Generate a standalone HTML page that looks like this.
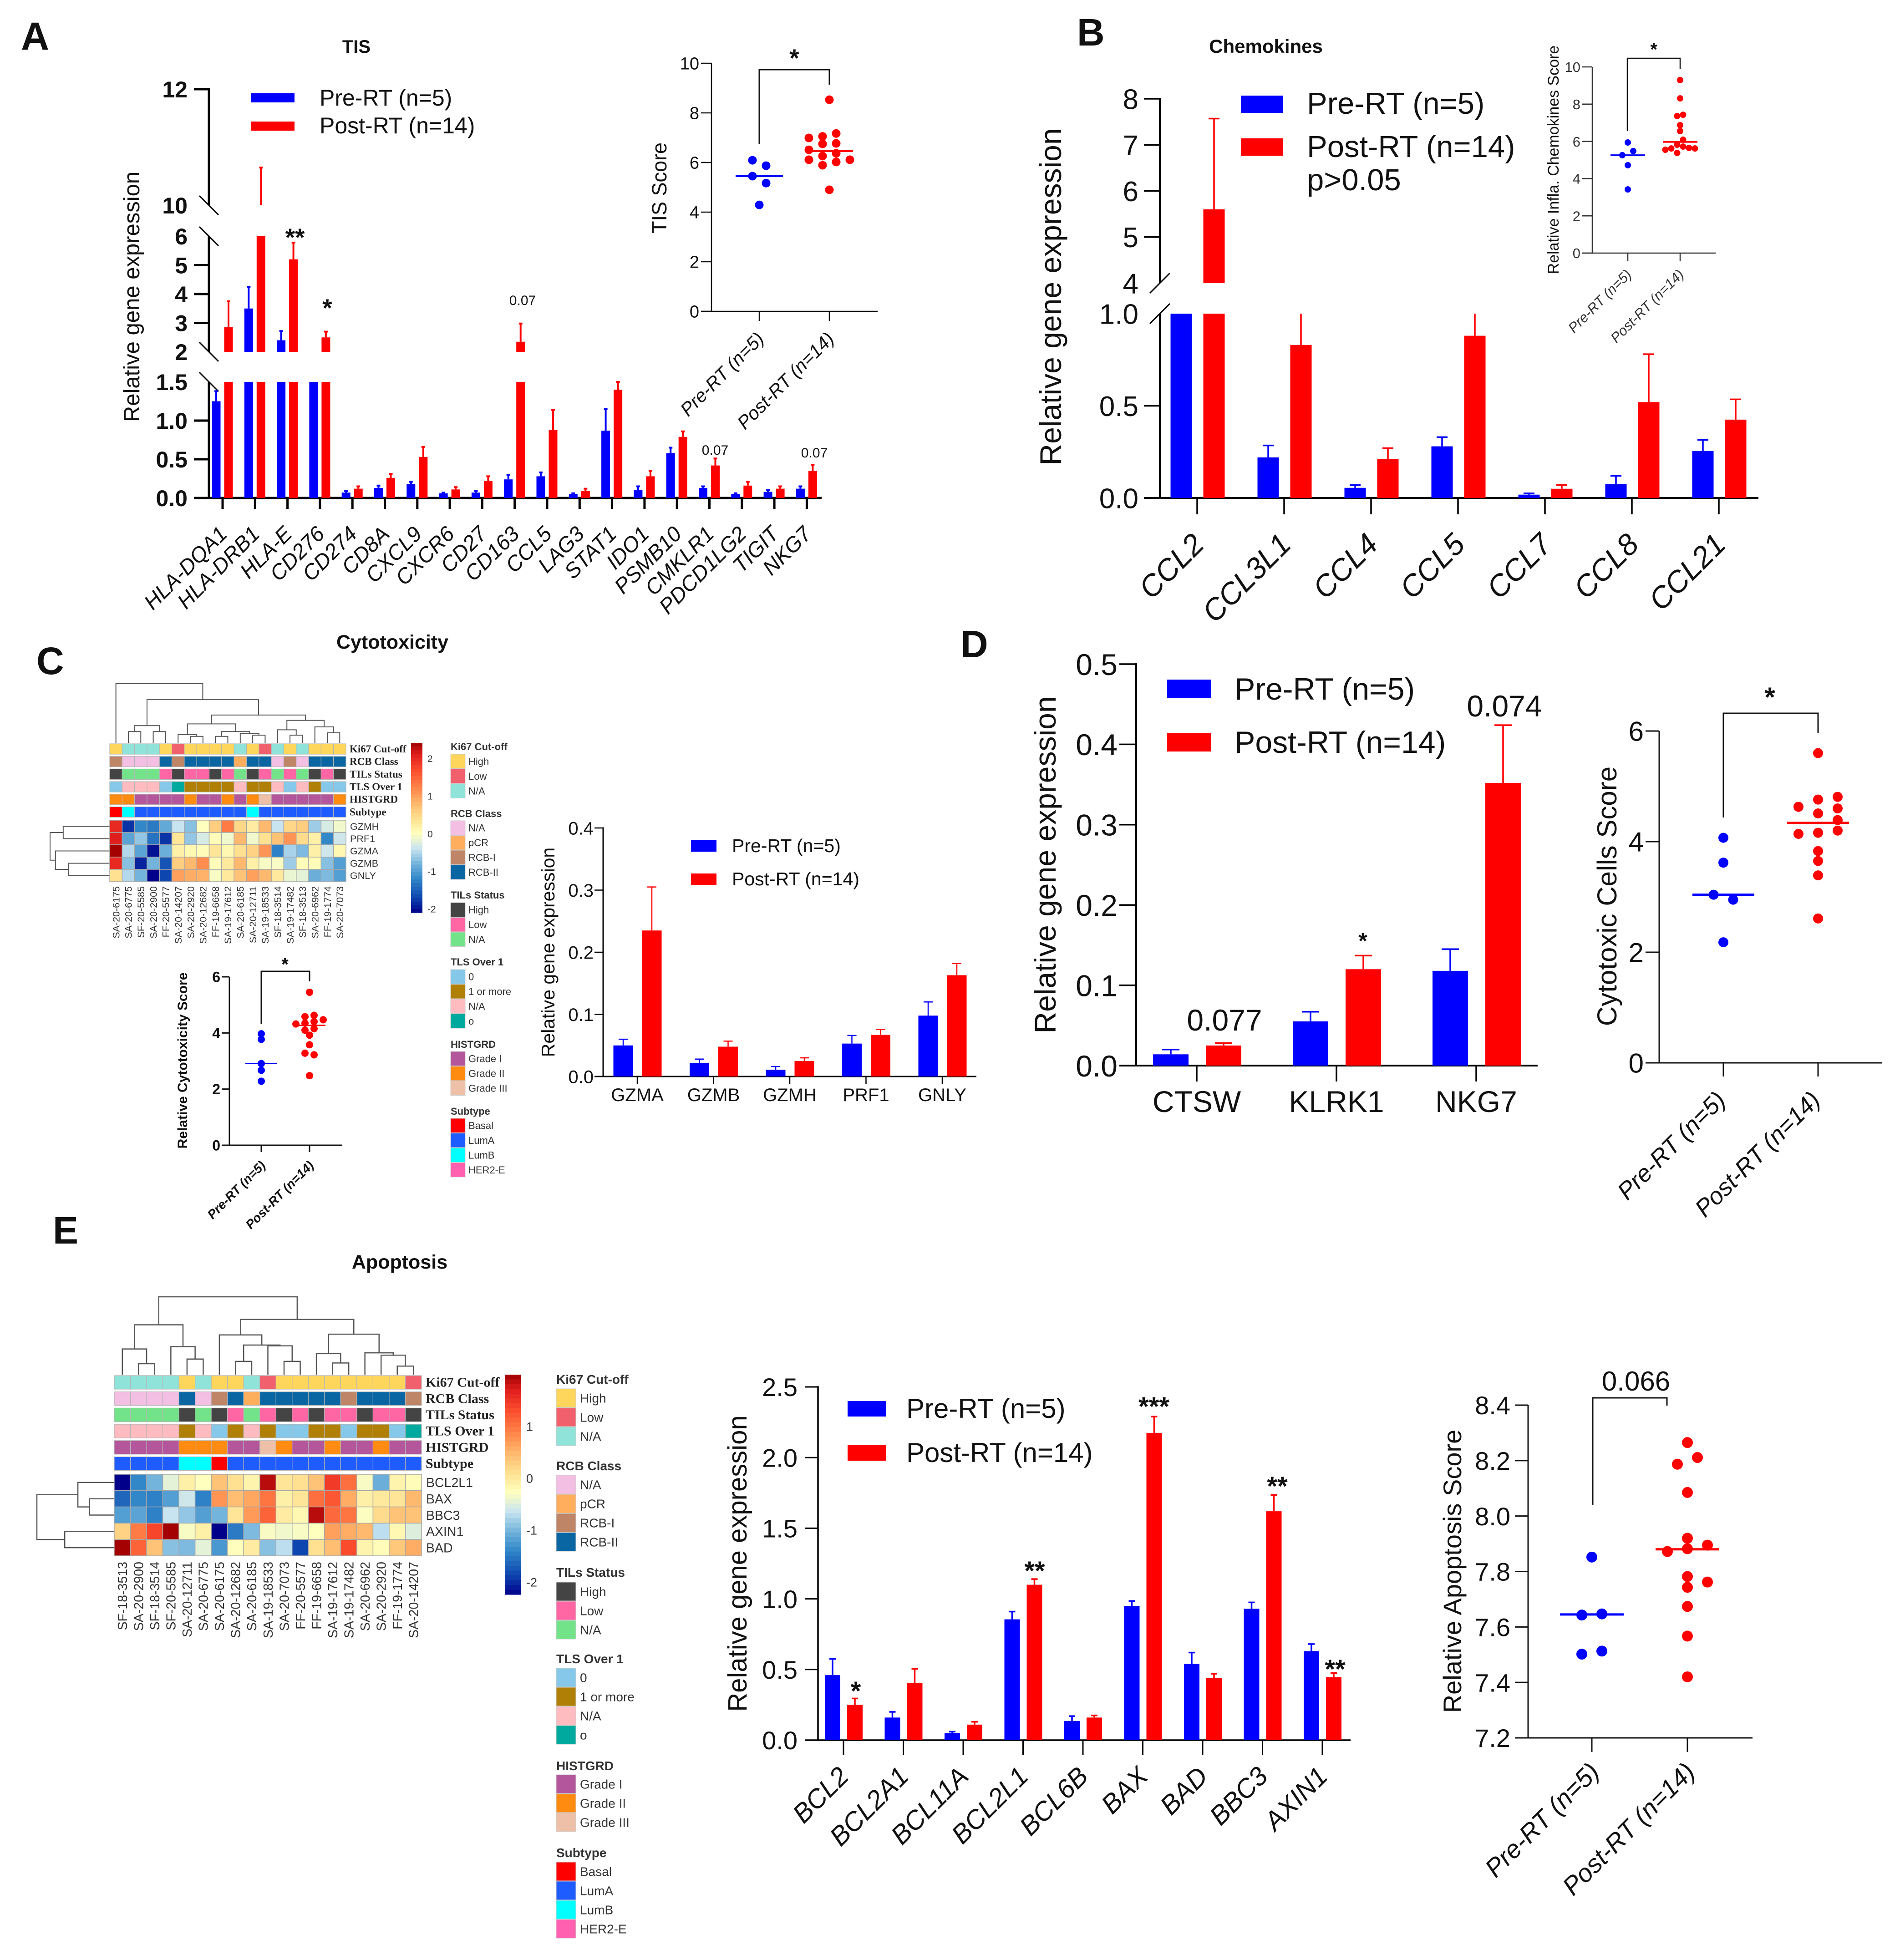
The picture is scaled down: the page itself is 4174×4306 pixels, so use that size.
<!DOCTYPE html>
<html lang="en">
<head>
<meta charset="utf-8">
<title>Gene expression panels</title>
<style>
html,body{margin:0;padding:0;background:#fff;}
svg{display:block;font-family:"Liberation Sans",sans-serif;}
text{fill:#111;}
</style>
</head>
<body>
<svg id="figure" width="4174" height="4306" viewBox="0 0 4174 4306" style="background:#fff">

<!-- Panel letters and titles -->
<text x="46" y="109" font-size="86" font-weight="bold">A</text>
<text x="2366" y="100" font-size="84" font-weight="bold">B</text>
<text x="80" y="1481" font-size="84" font-weight="bold">C</text>
<text x="2110" y="1444" font-size="84" font-weight="bold">D</text>
<text x="116" y="2732" font-size="84" font-weight="bold">E</text>
<text x="783" y="116" font-size="40" font-weight="bold" text-anchor="middle">TIS</text>
<text x="2781" y="116" font-size="42" font-weight="bold" text-anchor="middle">Chemokines</text>
<text x="862" y="1425" font-size="43" font-weight="bold" text-anchor="middle">Cytotoxicity</text>
<text x="878" y="2787" font-size="43" font-weight="bold" text-anchor="middle">Apoptosis</text>

<!-- Panel A static annotations -->
<text transform="translate(306,652) rotate(-90)" font-size="49" text-anchor="middle">Relative gene expression</text>
<rect x="552" y="205" width="95" height="20" fill="#0000ff"/>
<rect x="552" y="267" width="95" height="20" fill="#ff0000"/>
<text x="702" y="232" font-size="50">Pre-RT (n=5)</text>
<text x="702" y="293" font-size="50">Post-RT (n=14)</text>
<text x="648" y="540" font-size="55" font-weight="bold" text-anchor="middle">**</text>
<text x="719" y="695" font-size="55" font-weight="bold" text-anchor="middle">*</text>
<text x="1148" y="670" font-size="30" text-anchor="middle">0.07</text>
<text x="1571" y="999" font-size="30" text-anchor="middle">0.07</text>
<text x="1789" y="1005" font-size="30" text-anchor="middle">0.07</text>
<text transform="translate(1464,413) rotate(-90)" font-size="45" text-anchor="middle">TIS Score</text>
<path d="M1668 317V153H1822V186" fill="none" stroke="#111" stroke-width="3"/>
<text x="1745" y="146" font-size="55" font-weight="bold" text-anchor="middle">*</text>

<!-- Panel B static annotations -->
<text transform="translate(2331,652) rotate(-90)" font-size="66" text-anchor="middle">Relative gene expression</text>
<rect x="2726" y="210" width="92" height="38" fill="#0000ff"/>
<rect x="2726" y="304" width="92" height="38" fill="#ff0000"/>
<text x="2871" y="250" font-size="67">Pre-RT (n=5)</text>
<text x="2871" y="345" font-size="67">Post-RT (n=14)</text>
<text x="2871" y="418" font-size="67">p&gt;0.05</text>
<text transform="translate(3424,351) rotate(-90)" font-size="34" text-anchor="middle">Relative Infla. Chemokines Score</text>
<path d="M3575 288V128H3691V152" fill="none" stroke="#111" stroke-width="2.5"/>
<text x="3633" y="122" font-size="40" font-weight="bold" text-anchor="middle">*</text>

<!-- Panel C static annotations -->
<text transform="translate(411,2330) rotate(-90)" font-size="30" font-weight="bold" text-anchor="middle">Relative Cytotoxicity Score</text>
<path d="M574 2249V2134H680V2156" fill="none" stroke="#111" stroke-width="3"/>
<text x="626" y="2132" font-size="40" font-weight="bold" text-anchor="middle">*</text>
<text transform="translate(1218,2092) rotate(-90)" font-size="41" text-anchor="middle">Relative gene expression</text>
<rect x="1518" y="1846" width="56" height="25" fill="#0000ff"/>
<rect x="1518" y="1919" width="56" height="25" fill="#ff0000"/>
<text x="1608" y="1872" font-size="41">Pre-RT (n=5)</text>
<text x="1608" y="1945" font-size="41">Post-RT (n=14)</text>

<!-- Panel D static annotations -->
<text transform="translate(2319,1900) rotate(-90)" font-size="66" text-anchor="middle">Relative gene expression</text>
<rect x="2564" y="1493" width="97" height="40" fill="#0000ff"/>
<rect x="2564" y="1611" width="97" height="40" fill="#ff0000"/>
<text x="2712" y="1537" font-size="68">Pre-RT (n=5)</text>
<text x="2712" y="1654" font-size="68">Post-RT (n=14)</text>
<text x="3305" y="1574" font-size="66" text-anchor="middle">0.074</text>
<text x="2690" y="2264" font-size="66" text-anchor="middle">0.077</text>
<text x="2994" y="2084" font-size="50" font-weight="bold" text-anchor="middle">*</text>
<text transform="translate(3551,1969) rotate(-90)" font-size="60" text-anchor="middle">Cytotoxic Cells Score</text>
<path d="M3786 1796V1567H3994V1611" fill="none" stroke="#111" stroke-width="3"/>
<text x="3888" y="1552" font-size="60" font-weight="bold" text-anchor="middle">*</text>

<!-- Panel E static annotations -->
<text transform="translate(1640,3435) rotate(-90)" font-size="58" text-anchor="middle">Relative gene expression</text>
<rect x="1862" y="3078" width="85" height="34" fill="#0000ff"/>
<rect x="1862" y="3175" width="85" height="34" fill="#ff0000"/>
<text x="1991" y="3115" font-size="60">Pre-RT (n=5)</text>
<text x="1991" y="3212" font-size="60">Post-RT (n=14)</text>
<text x="1880" y="3735" font-size="58" font-weight="bold" text-anchor="middle">*</text>
<text x="2273" y="3471" font-size="58" font-weight="bold" text-anchor="middle">**</text>
<text x="2535" y="3110" font-size="58" font-weight="bold" text-anchor="middle">***</text>
<text x="2806" y="3285" font-size="58" font-weight="bold" text-anchor="middle">**</text>
<text x="2933" y="3687" font-size="58" font-weight="bold" text-anchor="middle">**</text>
<text transform="translate(3210,3452) rotate(-90)" font-size="56" text-anchor="middle">Relative Apoptosis Score</text>
<path d="M3499 3307V3071H3662V3088" fill="none" stroke="#111" stroke-width="3"/>
<text x="3594" y="3055" font-size="60" text-anchor="middle">0.066</text>
</svg>

<script>
/* ---------- Panel A: TIS bars ---------- */
const aGenes = ['HLA-DQA1','HLA-DRB1','HLA-E','CD276','CD274','CD8A','CXCL9','CXCR6','CD27','CD163','CCL5','LAG3','STAT1','IDO1','PSMB10','CMKLR1','PDCD1LG2','TIGIT','NKG7'];
const aPre = [1.25,3.5,2.4,1.7,0.07,0.13,0.18,0.06,0.07,0.24,0.28,0.05,0.87,0.10,0.58,0.13,0.05,0.08,0.12];
const aPreErr = [1.38,4.25,2.72,1.8,0.09,0.16,0.21,0.07,0.09,0.30,0.33,0.06,1.15,0.15,0.65,0.15,0.06,0.10,0.15];
const aPost = [2.85,7,5.2,2.5,0.12,0.26,0.53,0.11,0.22,2.35,0.88,0.09,1.4,0.28,0.79,0.42,0.16,0.12,0.35];
const aPostErr = [3.75,10.65,5.78,2.7,0.15,0.31,0.66,0.14,0.28,2.98,1.14,0.12,1.5,0.35,0.86,0.51,0.21,0.15,0.43];
const aTicks = ['0.0','0.5','1.0','1.5','2','3','4','5','6','10','12'];

/* ---------- Panel A: TIS score ---------- */
const tisGroups = ['Pre-RT (n=5)','Post-RT (n=14)'];
const tisTicks = ['0','2','4','6','8','10'];
const tisPre = [6.09,5.87,5.45,5.17,4.29];
const tisPost = [8.53,7.17,7.05,6.99,6.77,6.75,6.51,6.37,6.26,6.11,6.11,6.02,5.89,4.9];
const tisMedians = [5.45,6.46];

/* ---------- Panel B: chemokine bars ---------- */
const bGenes = ['CCL2','CCL3L1','CCL4','CCL5','CCL7','CCL8','CCL21'];
const bPre = [2.5,0.22,0.055,0.28,0.018,0.075,0.255];
const bPreErr = [3.0,0.285,0.07,0.33,0.025,0.12,0.315];
const bPost = [5.6,0.83,0.21,0.88,0.05,0.52,0.425];
const bPostErr = [7.57,1.05,0.27,1.02,0.07,0.78,0.535];
const bTicks = ['0.0','0.5','1.0','4','5','6','7','8'];

/* ---------- Panel B: chemokine score ---------- */
const chemoTicks = ['0','2','4','6','8','10'];
const chemoPre = [5.94,5.48,5.26,4.72,3.42];
const chemoPost = [9.29,8.31,7.43,7.36,6.87,6.55,6.09,5.82,5.72,5.65,5.62,5.62,5.55,5.38];
const chemoMedians = [5.26,5.97];

/* ---------- Panel C: cytotoxicity heatmap ---------- */
const cSamples = ['SA-20-6175','SA-20-6775','SF-20-5585','SA-20-2900','FF-20-5577','SA-20-14207','SA-20-2920','SA-20-12682','FF-19-6658','SA-19-17612','SA-20-6185','SA-20-12711','SA-19-18533','SF-18-3514','SA-19-17482','SF-18-3513','SA-20-6962','FF-19-1774','SA-20-7073'];
const cRowGenes = ['GZMH','PRF1','GZMA','GZMB','GNLY'];
const cGZMH = [2.0,-1.8,-1.2,-1.3,-0.9,-0.4,-0.7,0.0,0.6,1.3,0.5,0.25,0.8,-0.4,0.5,0.6,-0.6,-0.3,-0.1];
const cPRF1 = [2.1,-0.95,-0.65,-1.35,-1.8,0.35,-0.65,-0.3,0.05,-0.1,0.8,-0.1,0.4,0.7,1.1,0.45,0.2,-1.2,-0.35];
const cGZMA = [2.4,-0.5,-0.95,-2.0,-0.85,0.2,0.1,0.05,0.35,0.1,0.4,0.55,1.1,-1.25,-0.55,-0.75,0.2,-0.35,0.1];
const cGZMB = [2.0,-0.7,-1.9,-0.8,-1.6,0.6,0.8,1.15,0.05,0.3,0.8,0.2,-0.05,-0.05,-0.6,0.05,0.05,-0.7,-1.0];
const cGNLY = [0.4,-0.5,-0.8,-2.1,-1.7,1.0,0.9,0.85,-0.05,0.3,0.7,1.0,0.8,0.3,-0.15,-0.2,-0.85,-0.75,-1.0];
const cKi67 = ['High','N/A','N/A','N/A','High','Low','High','High','High','High','N/A','High','Low','N/A','High','N/A','High','High','High'];
const cRCB = ['RCB-I','N/A','N/A','N/A','RCB-II','RCB-I','RCB-II','RCB-II','RCB-II','RCB-II','pCR','RCB-II','RCB-II','N/A','RCB-I','N/A','RCB-II','RCB-II','RCB-II'];
const cTILs = ['High','N/A','N/A','N/A','Low','High','Low','Low','High','Low','N/A','High','Low','N/A','Low','N/A','High','Low','High'];
const cTLS = ['0','N/A','N/A','N/A','0','o','1 or more','1 or more','1 or more','1 or more','N/A','1 or more','1 or more','N/A','0','N/A','1 or more','0','0'];
const cHIST = ['Grade II','Grade II','Grade I','Grade I','Grade I','Grade I','Grade II','Grade I','Grade I','Grade II','Grade I','Grade II','Grade III','Grade I','Grade I','Grade I','Grade I','Grade I','Grade II'];
const cSubtype = ['Basal','LumB','LumA','LumA','LumA','LumA','LumA','LumA','LumA','LumA','LumA','LumB','LumA','LumA','LumA','LumA','LumA','LumA','LumA'];
const cColTree = [100,0,[73,[29,[19,1,2],[19,3,4]],[47,[32,[14,5,[11,6,7]],[19,[11,8,9],[16,10,[13,11,12]]]],[38,[22,13,[13,14,15]],[27,16,[17,17,18]]]]]];
const cRowTree = [100,[78,0,1],[91,2,[69,3,4]]];
const cBarTicks = ['2','1','0','-1','-2'];

/* ---------- Panel C: cytotoxicity score ---------- */
const cytoTicks = ['0','2','4','6'];
const cytoPre = [3.97,3.77,2.91,2.67,2.28];
const cytoPost = [5.45,4.63,4.58,4.47,4.4,4.35,4.32,4.15,4.1,3.92,3.58,3.28,3.22,2.48];
const cytoMedians = [2.91,4.27];

/* ---------- Panel C: cytotoxic genes bars ---------- */
const c2Genes = ['GZMA','GZMB','GZMH','PRF1','GNLY'];
const c2Pre = [0.05,0.022,0.011,0.053,0.098];
const c2PreErr = [0.06,0.028,0.016,0.066,0.12];
const c2Post = [0.235,0.048,0.025,0.067,0.163];
const c2PostErr = [0.305,0.057,0.03,0.076,0.182];
const c2Ticks = ['0.0','0.1','0.2','0.3','0.4'];

/* ---------- Panel D ---------- */
const dGenes = ['CTSW','KLRK1','NKG7'];
const dPre = [0.014,0.055,0.118];
const dPreErr = [0.02,0.067,0.145];
const dPost = [0.025,0.12,0.352];
const dPostErr = [0.028,0.137,0.424];
const dTicks = ['0.0','0.1','0.2','0.3','0.4','0.5'];
const cellTicks = ['0','2','4','6'];
const cellPre = [4.07,3.62,3.04,2.95,2.18];
const cellPost = [5.6,4.81,4.76,4.63,4.6,4.51,4.39,4.2,4.16,4.14,3.83,3.65,3.39,2.61];
const cellMedians = [3.04,4.34];

/* ---------- Panel E: apoptosis heatmap ---------- */
const eSamples = ['SF-18-3513','SA-20-2900','SF-18-3514','SF-20-5585','SA-20-12711','SA-20-6775','SA-20-6175','SA-20-12682','SA-20-6185','SA-19-18533','SA-20-7073','FF-20-5577','FF-19-6658','SA-19-17612','SA-19-17482','SA-20-6962','SA-20-2920','FF-19-1774','SA-20-14207'];
const eRowGenes = ['BCL2L1','BAX','BBC3','AXIN1','BAD'];
const eBCL2L1 = [-2.2,-1.2,-0.8,-0.2,0.2,0.0,0.7,0.4,0.15,2.3,0.35,0.4,0.7,1.85,1.4,-0.05,-0.85,0.15,0.05];
const eBAX = [-1.45,-1.2,-1.25,-1.0,-0.35,-1.25,1.1,0.75,0.95,1.35,0.2,0.35,1.4,1.6,0.9,0.2,0.3,0.35,0.8];
const eBBC3 = [-1.0,-0.95,-1.25,-0.4,-0.65,-1.0,-0.8,0.35,1.05,1.5,0.25,0.1,2.3,1.45,1.35,-0.02,0.45,0.7,0.7];
const eAXIN1 = [0.55,1.3,1.75,2.4,-0.05,0.2,-2.2,-1.3,-0.75,-0.05,-0.1,-0.05,0.0,1.0,0.9,0.8,-0.45,0.1,-0.25];
const eBAD = [2.4,1.5,0.7,-0.7,-0.75,-0.2,-1.05,0.02,0.25,-0.7,-0.45,-1.7,0.4,0.75,1.7,0.15,0.05,0.65,0.9];
const eKi67 = ['N/A','N/A','N/A','N/A','High','N/A','High','High','N/A','Low','High','High','High','High','High','High','High','High','Low'];
const eRCB = ['N/A','N/A','N/A','N/A','RCB-II','N/A','RCB-I','RCB-II','pCR','RCB-II','RCB-II','RCB-II','RCB-II','RCB-II','RCB-I','RCB-II','RCB-II','RCB-II','RCB-I'];
const eTILs = ['N/A','N/A','N/A','N/A','High','N/A','High','Low','N/A','Low','High','Low','High','Low','Low','High','Low','Low','High'];
const eTLS = ['N/A','N/A','N/A','N/A','1 or more','N/A','0','1 or more','N/A','1 or more','0','0','1 or more','1 or more','0','1 or more','1 or more','0','o'];
const eHIST = ['Grade I','Grade I','Grade I','Grade I','Grade II','Grade II','Grade II','Grade I','Grade I','Grade III','Grade II','Grade I','Grade I','Grade II','Grade I','Grade I','Grade II','Grade I','Grade I'];
const eSubtype = ['LumA','LumA','LumA','LumA','LumB','LumB','Basal','LumA','LumA','LumA','LumA','LumA','LumA','LumA','LumA','LumA','LumA','LumA','LumA'];
const eColTree = [100,[64,[33,0,[14,1,2]],[36,3,[20,4,5]]],[71,[51,6,[38,[17,7,8],[37,9,[17,10,11]]]],[52,[27,12,[15,13,14]],[28,15,[25,16,[11,17,18]]]]]];
const eRowTree = [100,[47,0,[32,1,2]],[64,3,4]];
const eBarTicks = ['1','0','-1','-2'];

/* ---------- Panel E: apoptosis bars ---------- */
const e2Genes = ['BCL2','BCL2A1','BCL11A','BCL2L1','BCL6B','BAX','BAD','BBC3','AXIN1'];
const e2Pre = [0.46,0.16,0.05,0.855,0.135,0.95,0.54,0.93,0.63];
const e2PreErr = [0.575,0.2,0.06,0.91,0.17,0.985,0.62,0.975,0.68];
const e2Post = [0.25,0.405,0.11,1.1,0.16,2.175,0.44,1.62,0.445];
const e2PostErr = [0.295,0.505,0.13,1.14,0.175,2.29,0.47,1.735,0.475];
const e2Ticks = ['0.0','0.5','1.0','1.5','2.0','2.5'];

/* ---------- Panel E: apoptosis score ---------- */
const apoTicks = ['7.2','7.4','7.6','7.8','8.0','8.2','8.4'];
const apoPre = [7.852,7.647,7.643,7.513,7.502];
const apoPost = [8.265,8.211,8.187,8.085,7.92,7.895,7.882,7.872,7.782,7.762,7.743,7.674,7.567,7.42];
const apoMedians = [7.645,7.88];

/* ---------- Heatmap legend vocab ---------- */
const annotTitles = ['Ki67 Cut-off','RCB Class','TILs Status','TLS Over 1','HISTGRD','Subtype'];
const ki67Levels = ['High','Low','N/A'];
const rcbLevels = ['N/A','pCR','RCB-I','RCB-II'];
const tilsLevels = ['High','Low','N/A'];
const tlsLevels = ['0','1 or more','N/A','o'];
const histLevels = ['Grade I','Grade II','Grade III'];
const subtypeLevels = ['Basal','LumA','LumB','HER2-E'];
const ki67Colors = ['#ffd65c','#f0616d','#8fe3d8'];
const rcbColors = ['#f3bfe3','#ffae5e','#bf8567','#0a66a3'];
const tilsColors = ['#444444','#ff66a3','#73e38a'];
const tlsColors = ['#85c8ea','#b07f06','#ffbcc0','#00a99d'];
const histColors = ['#b3569c','#ff8c10','#eec0a8'];
const subtypeColors = ['#ff0000','#1f5cff','#00ffff','#ff60b0'];

/* ---------- Helpers ---------- */
const NS = 'http://www.w3.org/2000/svg';
const root = document.getElementById('figure');
const BLUE = '#0000ff', RED = '#ff0000';

function slug(s){ return String(s).toLowerCase().replace(/[^a-z0-9]+/g,'-').replace(/^-|-$/g,''); }

function mk(parent, tag, name, attrs){
  const el = document.createElementNS(NS, tag);
  
  
  for (const k in attrs) el.setAttribute(k, attrs[k]);
  parent.appendChild(el);
  return el;
}
function txt(parent, name, str, attrs){
  const el = mk(parent, 'text', name, attrs);
  el.textContent = str;
  return el;
}
function line(parent, name, x1, y1, x2, y2, stroke, w){
  return mk(parent, 'line', name, {x1:x1, y1:y1, x2:x2, y2:y2, stroke:stroke, 'stroke-width':w});
}
function rotLabel(parent, name, str, x, y, size, weight, fill){
  return txt(parent, name, str, {x:x, y:y, 'font-size':size, 'font-style':'italic', 'font-weight':weight||'normal',
    'text-anchor':'end', transform:'rotate(-45 '+x+' '+y+')', style:'fill:'+(fill||'#111')});
}

/* Piecewise linear y axis made of segments [v0, v1, y0, y1] */
function segY(seg, v){ return seg[2] + (v - seg[0]) / (seg[1] - seg[0]) * (seg[3] - seg[2]); }
function valueY(segs, v){
  for (const s of segs) if (v >= s[0] && v <= s[1]) return segY(s, v);
  return null;
}

function drawValueBar(g, cfg, cx, value, err, color, label){
  for (const s of cfg.segs){
    if (value > s[0]){
      const top = segY(s, Math.min(value, s[1]));
      const bot = segY(s, s[0]);
      mk(g, 'rect', 'bar-' + label, {x:cx - cfg.barW/2, y:top, width:cfg.barW, height:bot-top, fill:color});
    }
    if (err > s[0] && value < s[1]){
      const a = segY(s, Math.max(value, s[0]));
      const b = segY(s, Math.min(err, s[1]));
      line(g, 'error-bar-' + label, cx, a, cx, b, color, cfg.errW);
      if (err <= s[1]) line(g, 'error-cap-' + label, cx - cfg.capW/2, b, cx + cfg.capW/2, b, color, cfg.errW);
    }
  }
}

function drawBarChart(name, cfg){
  const g = mk(root, 'g', name, {});
  const lastSeg = cfg.segs[cfg.segs.length-1];
  for (const s of cfg.segs) line(g, 'y-axis-line', cfg.axisX, s[2] + (s===cfg.segs[0] ? cfg.axisW/2 : 0), cfg.axisX, s[3] - (s===lastSeg ? cfg.axisW/2 : 0), '#000', cfg.axisW);
  line(g, 'x-axis-line', cfg.tickLeft, cfg.segs[0][2], cfg.xEnd, cfg.segs[0][2], '#000', cfg.axisW);
  cfg.ticks.forEach(function(lab){
    const v = parseFloat(lab);
    const y = valueY(cfg.segs, v);
    const isBreak = cfg.segs.some(function(s,i){ return (v===s[0] && i>0) || (v===s[1] && i<cfg.segs.length-1); });
    if (isBreak){
      const d = cfg.slash;
      const dirY = cfg.slashUp ? -d : d;
      line(g, 'axis-break-mark', cfg.axisX - d, y - dirY, cfg.axisX + d, y + dirY, '#000', 3);
    } else if (v !== cfg.segs[0][0]) {
      line(g, 'y-tick', cfg.tickLeft, y, cfg.axisX, y, '#000', cfg.tickW);
    }
    txt(g, 'y-tick-label', lab, {x:cfg.labelRight, y:y + cfg.labelSize*0.36, 'font-size':cfg.labelSize, 'font-weight':cfg.labelWeight||'normal', 'text-anchor':'end'});
  });
  cfg.cats.forEach(function(cat,i){
    const tx = cfg.x0 + i*cfg.step;
    const base = cfg.segs[0][2];
    drawValueBar(g, cfg, tx + cfg.off[0], cfg.pre[i], cfg.preErr[i], BLUE, 'pre-' + slug(cat));
    drawValueBar(g, cfg, tx + cfg.off[1], cfg.post[i], cfg.postErr[i], RED, 'post-' + slug(cat));
    line(g, 'x-tick', tx, base, tx, cfg.tickBottom, '#000', cfg.tickW);
    if (cfg.rot){
      rotLabel(g, 'x-tick-label-' + slug(cat), cat, tx + cfg.rot[0], cfg.rot[1], cfg.catSize);
    } else {
      txt(g, 'x-tick-label-' + slug(cat), cat, {x:tx, y:cfg.catY, 'font-size':cfg.catSize, 'text-anchor':'middle'});
    }
  });
}

/* Column layout for dot plots: single points sit on the centre, close pairs split
   either side, larger clusters fill the nearest free column. */
function swarm(vals, cx, d, cfg, yOf){
  const sorted = vals.slice().sort(function(a,b){ return b-a; });
  const ys = sorted.map(yOf);
  const clusters = [];
  ys.forEach(function(y,i){
    if (i===0 || y - ys[i-1] >= cfg.link) clusters.push([i]);
    else clusters[clusters.length-1].push(i);
  });
  const placed = [];
  const out = [];
  clusters.forEach(function(c){
    c.forEach(function(idx,pos){
      let offset = 0;
      if (c.length === 2){
        offset = (pos===0 ? cfg.pairFirst : -cfg.pairFirst) * 0.5;
      } else if (c.length > 2){
        let best = cfg.cols[0], bestGap = -1;
        for (const k of cfg.cols){
          const gap = placed.reduce(function(m,p){ return p.k===k ? Math.min(m, Math.abs(p.y-ys[idx])) : m; }, Infinity);
          if (gap >= cfg.sep){ best = k; bestGap = Infinity; break; }
          if (gap > bestGap){ best = k; bestGap = gap; }
        }
        offset = best;
      }
      placed.push({k:offset, y:ys[idx]});
      out.push({x:cx + offset*d, y:ys[idx]});
    });
  });
  return out;
}

function drawScatter(name, cfg){
  const g = mk(root, 'g', name, {});
  const y0 = parseFloat(cfg.ticks[0]), y1 = parseFloat(cfg.ticks[cfg.ticks.length-1]);
  const yOf = function(v){ return cfg.yBottom + (v - y0)/(y1 - y0)*(cfg.yTop - cfg.yBottom); };
  const col = cfg.color || '#111';
  line(g, 'y-axis-line', cfg.axisX, cfg.yBottom, cfg.axisX, cfg.yTop, col, cfg.axisW);
  line(g, 'x-axis-line', cfg.tickLeft, cfg.yBottom, cfg.xEnd, cfg.yBottom, col, cfg.axisW);
  cfg.ticks.forEach(function(lab){
    const y = yOf(parseFloat(lab));
    line(g, 'y-tick', cfg.tickLeft, y, cfg.axisX, y, col, cfg.axisW);
    txt(g, 'y-tick-label', lab, {x:cfg.labelRight, y:y + cfg.labelSize*0.36, 'font-size':cfg.labelSize, 'font-weight':cfg.weight||'normal', 'text-anchor':'end', style:'fill:'+col});
  });
  [[cfg.pre, BLUE, 'pre'],[cfg.post, RED, 'post']].forEach(function(series, s){
    const cx = cfg.groupX[s];
    line(g, 'x-tick', cx, cfg.yBottom, cx, cfg.tickBottom, col, cfg.axisW);
    rotLabel(g, 'x-tick-label-' + series[2], tisGroups[s], cx + cfg.rot[0], cfg.rot[1], cfg.groupSize, cfg.weight, col);
    swarm(series[0], cx, cfg.d[s], cfg, yOf).forEach(function(p){
      mk(g, 'circle', 'point-' + series[2], {cx:p.x, cy:p.y, r:cfg.r, fill:series[1]});
    });
    const my = yOf(cfg.medians[s]);
    line(g, 'median-line-' + series[2], cx - cfg.medHalf, my, cx + cfg.medHalf, my, series[1], cfg.medW);
  });
}

/* Heat colour map */
const heatStops = [[-2.1,[0,0,139]],[-1.7,[14,70,175]],[-1.2,[50,135,200]],[-0.8,[115,180,220]],[-0.4,[200,228,240]],[0,[255,255,190]],[0.4,[255,225,145]],[0.8,[255,185,110]],[1.2,[255,135,75]],[1.7,[250,75,45]],[2.1,[225,30,30]],[2.42,[160,0,0]]];
function heatColor(v){
  if (v <= heatStops[0][0]) return 'rgb(' + heatStops[0][1].join(',') + ')';
  for (let i=1;i<heatStops.length;i++){
    if (v <= heatStops[i][0]){
      const a = heatStops[i-1], b = heatStops[i];
      const t = (v-a[0])/(b[0]-a[0]);
      return 'rgb(' + a[1].map(function(c,j){ return Math.round(c + t*(b[1][j]-c)); }).join(',') + ')';
    }
  }
  return 'rgb(160,0,0)';
}

const annotLevels = [ki67Levels, rcbLevels, tilsLevels, tlsLevels, histLevels, subtypeLevels];
const annotColors = [ki67Colors, rcbColors, tilsColors, tlsColors, histColors, subtypeColors];

function layoutTree(node, pos){
  if (typeof node === 'number') return {p:pos(node), h:0};
  return {h:node[0], a:layoutTree(node[1],pos), b:layoutTree(node[2],pos), get p(){ return (this.a.p + this.b.p)/2; }};
}
function drawTree(g, node, toPoint, stroke, w){
  if (node.a === undefined) return;
  const p1 = toPoint(node.a.p, node.a.h), p2 = toPoint(node.a.p, node.h), p3 = toPoint(node.b.p, node.h), p4 = toPoint(node.b.p, node.b.h);
  mk(g, 'path', 'dendrogram-branch', {d:'M'+p1+'L'+p2+'L'+p3+'L'+p4, fill:'none', stroke:stroke, 'stroke-width':w});
  drawTree(g, node.a, toPoint, stroke, w);
  drawTree(g, node.b, toPoint, stroke, w);
}

function drawHeatmap(name, cfg){
  const g = mk(root, 'g', name, {});
  const n = cfg.samples.length;
  const cw = cfg.cellW;
  /* dendrograms */
  const colTree = layoutTree(cfg.colTree, function(i){ return cfg.x + (i+0.5)*cw; });
  drawTree(g, colTree, function(p,h){ return p + ' ' + (cfg.treeBase - h*cfg.treeScale); }, '#555', cfg.treeW);
  const rowTree = layoutTree(cfg.rowTree, function(i){ return cfg.mainY + (i+0.5)*cfg.rowH; });
  drawTree(g, rowTree, function(p,h){ return (cfg.x - h*cfg.rowTreeScale) + ' ' + p; }, '#555', cfg.treeW);
  /* annotations */
  cfg.annot.forEach(function(track,r){
    const y = cfg.annotY + r*cfg.annotPitch;
    track.forEach(function(level,i){
      const c = annotColors[r][annotLevels[r].indexOf(level)];
      mk(g, 'rect', 'annotation-cell-' + slug(annotTitles[r]), {x:cfg.x+i*cw, y:y, width:cw, height:cfg.annotH, fill:c, stroke:'#b5b5b5', 'stroke-width':1.2});
    });
    txt(g, 'annotation-label-' + slug(annotTitles[r]), annotTitles[r], {x:cfg.labelX, y:y + cfg.annotH/2 + cfg.labelSize*0.32, 'font-size':cfg.labelSize, 'font-weight':'bold', style:'font-family:\'Liberation Serif\',serif;fill:#222'});
  });
  /* main grid */
  cfg.rows.forEach(function(vals,r){
    const y = cfg.mainY + r*cfg.rowH;
    vals.forEach(function(v,i){
      mk(g, 'rect', 'heatmap-cell-' + slug(cfg.genes[r]), {x:cfg.x+i*cw, y:y, width:cw, height:cfg.rowH, fill:heatColor(v), stroke:'#a8a8a8', 'stroke-width':1.5});
    });
    txt(g, 'row-label-' + slug(cfg.genes[r]), cfg.genes[r], {x:cfg.labelX+1, y:y + cfg.rowH/2 + cfg.geneSize*0.36, 'font-size':cfg.geneSize, style:'fill:#333'});
  });
  cfg.samples.forEach(function(s,i){
    const x = cfg.x + (i+0.5)*cw + cfg.geneSize*0.36;
    txt(g, 'column-label-' + slug(s), s, {x:x, y:cfg.sampleTop, 'font-size':cfg.geneSize, 'text-anchor':'end', transform:'rotate(-90 '+x+' '+cfg.sampleTop+')', style:'fill:#333'});
  });
  /* colour bar */
  const bands = 46;
  for (let b=0;b<bands;b++){
    const v = 2.42 - (b+0.5)/bands*4.52;
    mk(g, 'rect', 'colorbar-band', {x:cfg.bar.x, y:cfg.bar.y + b*cfg.bar.h/bands, width:cfg.bar.w, height:cfg.bar.h/bands+0.6, fill:heatColor(v)});
  }
  cfg.bar.ticks.forEach(function(lab){
    const y = cfg.bar.y + (cfg.bar.top - parseFloat(lab))/(cfg.bar.top - cfg.bar.bottom)*cfg.bar.h;
    txt(g, 'colorbar-tick-label', lab, {x:cfg.bar.labelX, y:y + cfg.bar.size*0.36, 'font-size':cfg.bar.size, style:'fill:#333'});
  });
  /* legends */
  annotTitles.forEach(function(title,r){
    txt(g, 'legend-title-' + slug(title), title, {x:cfg.leg.x, y:cfg.leg.titleY[r] + cfg.leg.size*0.36, 'font-size':cfg.leg.size, 'font-weight':'bold', style:'fill:#333'});
    annotLevels[r].forEach(function(level,i){
      const y = cfg.leg.swatchY[r] + i*cfg.leg.pitch;
      mk(g, 'rect', 'legend-swatch-' + slug(title) + '-' + slug(level), {x:cfg.leg.x, y:y, width:cfg.leg.w, height:cfg.leg.pitch-1, fill:annotColors[r][i], stroke:'#ccc', 'stroke-width':1});
      txt(g, 'legend-entry-' + slug(title) + '-' + slug(level), level, {x:cfg.leg.labelX, y:y + cfg.leg.pitch/2 + cfg.leg.size*0.34, 'font-size':cfg.leg.size, style:'fill:#333'});
    });
  });
}

/* ---------- Draw all ---------- */
drawBarChart('tis-bar-chart', {cats:aGenes, pre:aPre, preErr:aPreErr, post:aPost, postErr:aPostErr, ticks:aTicks,
  segs:[[0,1.5,1094,839],[2,6,773,519],[10,12,451,196]], axisX:459, axisW:5, tickW:5, tickLeft:426, labelRight:412, labelSize:50, labelWeight:'bold',
  xEnd:1805, x0:489, step:71.3, off:[-14,13], barW:19, capW:8, errW:4, tickBottom:1118, slash:21, slashUp:false, rot:[13,1176], catSize:47});
drawScatter('tis-score-plot', {pre:tisPre, post:tisPost, medians:tisMedians, ticks:tisTicks, axisX:1563, yBottom:684, yTop:139, axisW:2.5, tickLeft:1540, labelRight:1536, labelSize:38,
  xEnd:1928, groupX:[1668,1822], tickBottom:705, rot:[13,747], groupSize:41, r:9.5, d:[30,30], link:16, sep:16, pairFirst:-1, cols:[0.5,-0.5,-1.5,1.5], medHalf:52, medW:4});

drawBarChart('chemokines-bar-chart', {cats:bGenes, pre:bPre, preErr:bPreErr, post:bPost, postErr:bPostErr, ticks:bTicks,
  segs:[[0,1,1094,689],[4,8,622,217]], axisX:2548, axisW:4, tickW:3.5, tickLeft:2513, labelRight:2501, labelSize:62,
  xEnd:3863, x0:2630, step:191, off:[-35,37], barW:47, capW:24, errW:3.5, tickBottom:1130, slash:22, slashUp:true, rot:[19,1200], catSize:66});
drawScatter('chemokines-score-plot', {pre:chemoPre, post:chemoPost, medians:chemoMedians, ticks:chemoTicks, axisX:3498, yBottom:556, yTop:147, axisW:2.5, tickLeft:3476, labelRight:3472, labelSize:31, color:'#333',
  xEnd:3769, groupX:[3576,3691], tickBottom:574, rot:[10,605], groupSize:31, r:7, d:[24,13], link:13, sep:14, pairFirst:1, cols:[0.5,-0.5,1.5,-1.5,2.5,-2.5], medHalf:38, medW:3.5});

drawHeatmap('cytotoxicity-heatmap', {x:241, cellW:519/19, annotY:1634, annotPitch:27.7, annotH:23, mainY:1802, rowH:27, labelX:768, labelSize:23, geneSize:21.5, sampleTop:1947,
  samples:cSamples, genes:cRowGenes, rows:[cGZMH,cPRF1,cGZMA,cGZMB,cGNLY], annot:[cKi67,cRCB,cTILs,cTLS,cHIST,cSubtype], colTree:cColTree, rowTree:cRowTree,
  treeBase:1632, treeScale:1.30, rowTreeScale:1.31, treeW:2,
  bar:{x:903, y:1632, w:25, h:373, top:2.42, bottom:-2.1, ticks:cBarTicks, labelX:939, size:21},
  leg:{x:990, w:32, labelX:1029, size:22, pitch:32.5, titleY:[1640,1787,1966,2113,2294,2441], swatchY:[1657,1803,1983,2130,2310,2457]}});
drawScatter('cytotoxicity-score-plot', {pre:cytoPre, post:cytoPost, medians:cytoMedians, ticks:cytoTicks, axisX:504, yBottom:2516, yTop:2146, axisW:3, tickLeft:487, labelRight:484, labelSize:32, weight:'bold',
  xEnd:752, groupX:[574,680], tickBottom:2531, rot:[11,2562], groupSize:28, r:8, d:[20,20], link:11, sep:12, pairFirst:-1, cols:[0.5,-0.5,1.5,-1.5], medHalf:35, medW:3});
drawBarChart('cytotoxic-genes-bar-chart', {cats:c2Genes, pre:c2Pre, preErr:c2PreErr, post:c2Post, postErr:c2PostErr, ticks:c2Ticks,
  segs:[[0,0.4,2365,1819]], axisX:1325, axisW:3, tickW:2.5, tickLeft:1306, labelRight:1304, labelSize:40,
  xEnd:2145, x0:1400, step:167.5, off:[-31,32], barW:43, capW:20, errW:2.5, tickBottom:2381, catY:2419, catSize:40});

drawBarChart('cytotoxic-cell-genes-bar-chart', {cats:dGenes, pre:dPre, preErr:dPreErr, post:dPost, postErr:dPostErr, ticks:dTicks,
  segs:[[0,0.5,2341,1459]], axisX:2496, axisW:4, tickW:3.5, tickLeft:2459, labelRight:2455, labelSize:66,
  xEnd:3378, x0:2629, step:307, off:[-57,59], barW:78, capW:38, errW:3.5, tickBottom:2376, catY:2443, catSize:66});
drawScatter('cytotoxic-cells-score-plot', {pre:cellPre, post:cellPost, medians:cellMedians, ticks:cellTicks, axisX:3645, yBottom:2335, yTop:1606, axisW:3, tickLeft:3615, labelRight:3611, labelSize:60,
  xEnd:4135, groupX:[3786,3994], tickBottom:2365, rot:[8,2420], groupSize:53, r:11, d:[43,43], link:21, sep:22, pairFirst:-1, cols:[1,0,-1], medHalf:68, medW:5});

drawHeatmap('apoptosis-heatmap', {x:251, cellW:675/19, annotY:3022, annotPitch:35.7, annotH:30, mainY:3239, rowH:35.8, labelX:935, labelSize:30, geneSize:28.5, sampleTop:3431,
  samples:eSamples, genes:eRowGenes, rows:[eBCL2L1,eBAX,eBBC3,eAXIN1,eBAD], annot:[eKi67,eRCB,eTILs,eTLS,eHIST,eSubtype], colTree:eColTree, rowTree:eRowTree,
  treeBase:3020, treeScale:1.71, rowTreeScale:1.70, treeW:2.5,
  bar:{x:1110, y:3020, w:34, h:483, top:2.0, bottom:-2.24, ticks:eBarTicks, labelX:1156, size:27},
  leg:{x:1222, w:43, labelX:1274, size:28, pitch:42, titleY:[3030,3220,3454,3644,3879,4070], swatchY:[3051,3241,3476,3665,3899,4091]}});
drawBarChart('apoptosis-bar-chart', {cats:e2Genes, pre:e2Pre, preErr:e2PreErr, post:e2Post, postErr:e2PostErr, ticks:e2Ticks,
  segs:[[0,2.5,3823,3047]], axisX:1797, axisW:3.5, tickW:3, tickLeft:1768, labelRight:1752, labelSize:56,
  xEnd:2967, x0:1853, step:131.5, off:[-24,25], barW:34, capW:14, errW:3.5, tickBottom:3856, rot:[15,3906], catSize:58});
drawScatter('apoptosis-score-plot', {pre:apoPre, post:apoPost, medians:apoMedians, ticks:apoTicks, axisX:3357, yBottom:3818, yTop:3087, axisW:3, tickLeft:3328, labelRight:3318, labelSize:56,
  xEnd:3850, groupX:[3497,3707], tickBottom:3849, rot:[20,3896], groupSize:56, r:12, d:[44,44], link:20, sep:20, pairFirst:1, cols:[0,1,-1], medHalf:70, medW:5});
</script>
</body>
</html>
